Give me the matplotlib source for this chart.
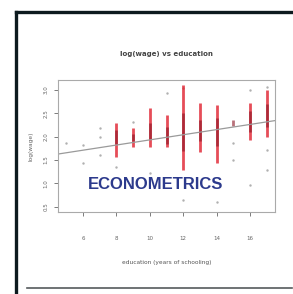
import matplotlib
matplotlib.use("Agg")
import matplotlib.pyplot as plt
from matplotlib.lines import Line2D

# dense columns (drawn red), years of schooling
educ_red = [8, 9, 10, 11, 12, 13, 14, 16, 17]
red_lo = [1.56, 1.78, 1.78, 1.78, 1.29, 1.67, 1.44, 1.93, 1.99]
red_hi = [2.29, 2.19, 2.61, 2.46, 3.11, 2.72, 2.68, 2.72, 3.00]

# darker cores where points pile up
educ_core = [8, 9, 10, 11, 12, 13, 14, 15, 16, 17]
core_lo = [1.85, 1.90, 1.95, 1.85, 1.70, 1.90, 1.80, 2.22, 2.10, 2.20]
core_hi = [2.15, 2.05, 2.30, 2.20, 2.50, 2.35, 2.40, 2.35, 2.55, 2.70]

# sparse points
pts_x = [5, 6, 6, 7, 7, 7, 8, 9, 10, 11, 12, 12, 14, 15, 15, 16, 16, 17, 17, 17]
pts_y = [1.86, 1.82, 1.44, 1.99, 1.61, 2.19, 1.35, 2.31, 1.22, 2.94,
         3.04, 0.64, 0.60, 1.86, 1.50, 3.00, 0.96, 3.06, 1.71, 1.29]

# fitted line log(wage) = b0 + b1 * educ
b0, b1 = 1.38, 0.055

x_ticks = [6, 8, 10, 12, 14, 16]
y_ticks = [0.5, 1.0, 1.5, 2.0, 2.5, 3.0]
y_labels = ["0.5", "1.0", "1.5", "2.0", "2.5", "3.0"]

fig = plt.figure(figsize=(2.93, 2.94), dpi=100)
ax = fig.add_axes([0.198, 0.279, 0.741, 0.449])

ax.vlines(educ_red, red_lo, red_hi, color="#e0202e", lw=2.0, alpha=0.8)
ax.vlines(educ_core, core_lo, core_hi, color="#8a1424", lw=2.0, alpha=0.6)
ax.scatter(pts_x, pts_y, s=3, color="#b0b0b0", lw=0)
ax.axline((0, b0), slope=b1, color="#9a9a9a", lw=0.9)

ax.set_xlim(4.5, 17.5)
ax.set_ylim(0.39, 3.21)
ax.set_xticks(x_ticks)
ax.set_yticks(y_ticks)
ax.set_yticklabels(y_labels, rotation=90, va="center")
ax.tick_params(labelsize=4, colors="#666666", length=3, width=0.6)
ax.tick_params(axis="x", pad=14)
ax.tick_params(axis="y", pad=4)
for s in ax.spines.values():
    s.set_color("#aaaaaa")
    s.set_linewidth(0.8)

ax.set_title("log(wage) vs education", fontsize=5, fontweight="bold",
             color="#444444", pad=17)
ax.set_xlabel("education (years of schooling)", fontsize=4.2,
              color="#555555", labelpad=14)
ax.set_ylabel("log(wage)", fontsize=4.2, color="#666666", labelpad=7)

ax.text(0.45, 0.205, "ECONOMETRICS", transform=ax.transAxes,
        family=["Liberation Sans", "DejaVu Sans"], fontweight="bold",
        fontsize=12, color="#2c3a8c", ha="center", va="center")

# frame lines around the picture
fig.add_artist(Line2D([0.054, 0.054], [0.0, 0.96], color="#0d1a1f", lw=2.4,
                      transform=fig.transFigure, solid_capstyle="projecting"))
fig.add_artist(Line2D([0.054, 1.0], [0.96, 0.96], color="#0d1a1f", lw=2.4,
                      transform=fig.transFigure, solid_capstyle="projecting"))
fig.add_artist(Line2D([0.092, 0.997], [0.02, 0.02], color="#555a5c", lw=1.2,
                      transform=fig.transFigure))

fig.savefig("out.png", dpi=100)
